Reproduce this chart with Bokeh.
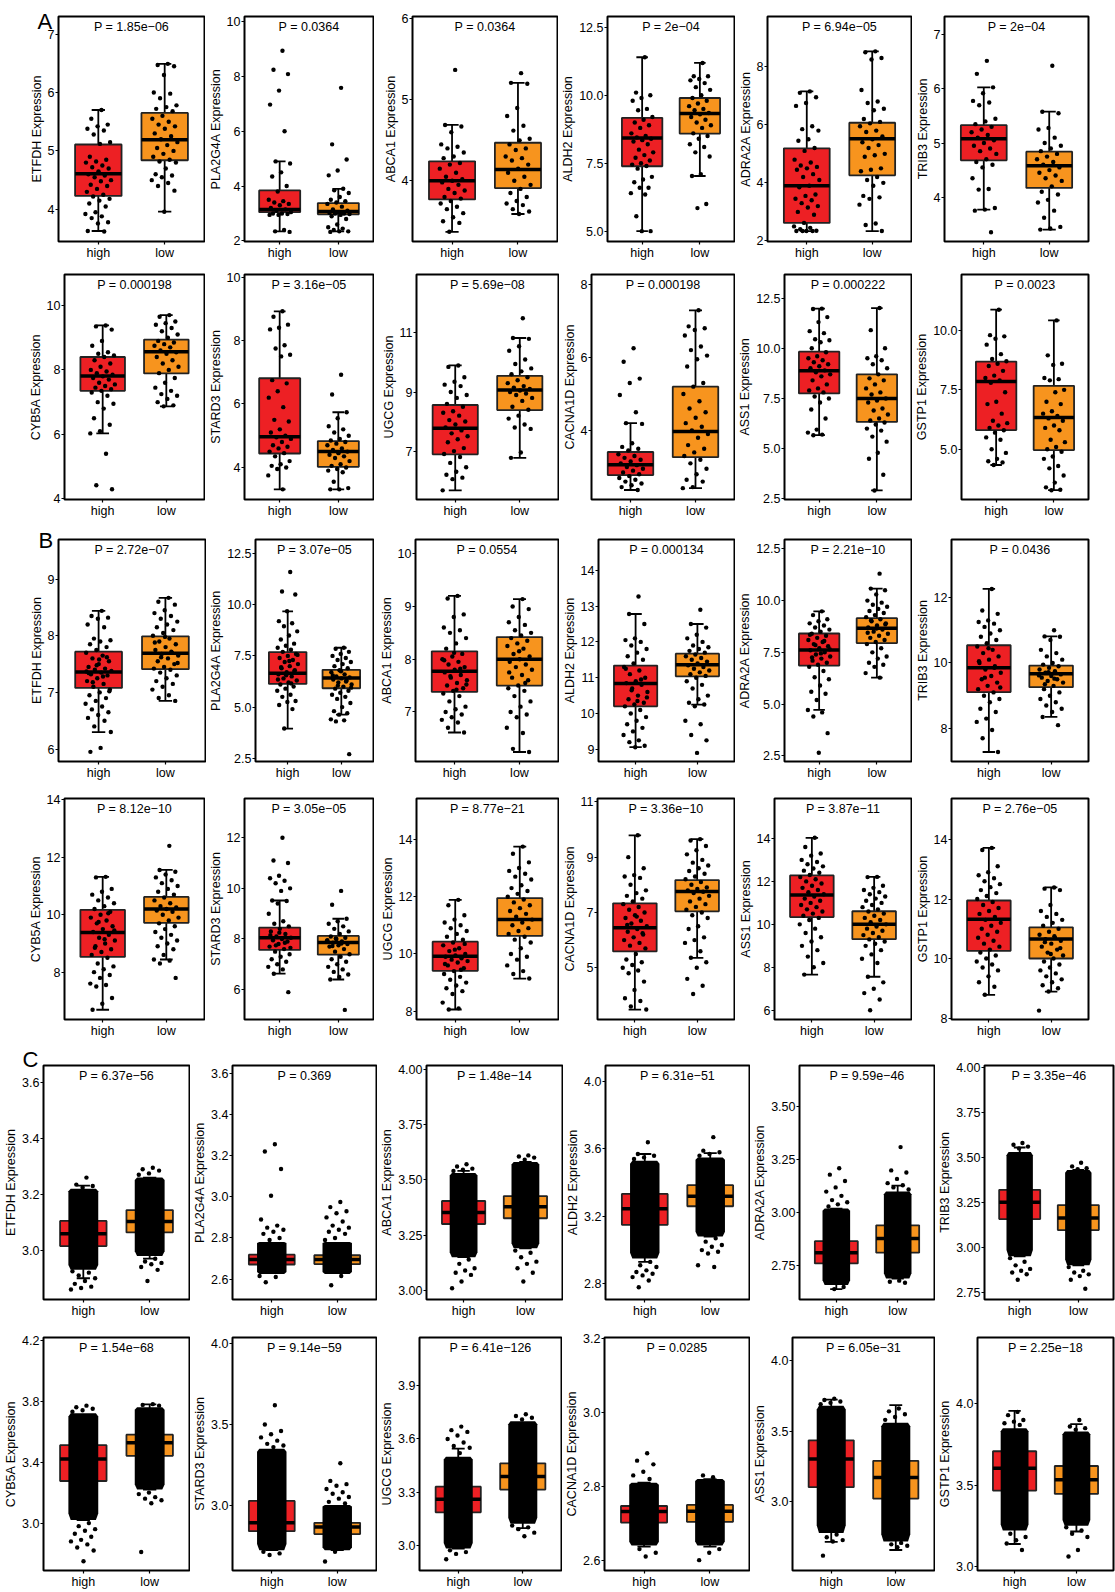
from bokeh.plotting import figure
from bokeh.layouts import column, row
from bokeh.models import Range1d, FixedTicker, PrintfTickFormatter, Label
from bokeh.embed import file_html
from bokeh.resources import INLINE

FONT = "Liberation Sans"
GROUPS = ["high", "low"]
BOX_COLORS = ["#ED2024", "#F7941E"]
GENES = ["ETFDH", "PLA2G4A", "ABCA1", "ALDH2", "ADRA2A", "TRIB3",
         "CYB5A", "STARD3", "UGCG", "CACNA1D", "ASS1", "GSTP1"]

# ---------------- cohort A ----------------
A_pval = ["1.85e\u221206", "0.0364", "0.0364", "2e\u221204", "6.94e\u221205", "2e\u221204",
          "0.000198", "3.16e\u221205", "5.69e\u221208", "0.000198", "0.000222", "0.0023"]
A_ylim = [[3.45, 7.30], [1.98, 10.18], [3.25, 6.03], [4.62, 12.90], [1.98, 9.73], [3.18, 7.34],
          [3.98, 10.96], [2.99, 10.08], [5.36, 12.98], [2.11, 8.27], [2.47, 13.67], [2.89, 12.35]]
A_ticks = [["4", "5", "6", "7"], ["2", "4", "6", "8", "10"], ["4", "5", "6"],
           ["5.0", "7.5", "10.0", "12.5"], ["2", "4", "6", "8"], ["4", "5", "6", "7"],
           ["4", "6", "8", "10"], ["4", "6", "8", "10"], ["7", "9", "11"], ["4", "6", "8"],
           ["2.5", "5.0", "7.5", "10.0", "12.5"], ["5.0", "7.5", "10.0"]]
# [lower whisker, Q1, median, Q3, upper whisker]
A_high_box = [[3.63, 4.23, 4.61, 5.11, 5.70], [2.35, 3.05, 3.15, 3.84, 4.90], [3.37, 3.77, 4.00, 4.24, 4.69],
              [5.00, 7.39, 8.43, 9.17, 11.40], [2.34, 2.62, 3.90, 5.19, 7.15], [3.77, 4.68, 5.08, 5.33, 6.03],
              [6.03, 7.35, 7.81, 8.40, 9.38], [3.31, 4.44, 4.97, 6.81, 8.92], [5.67, 6.89, 7.77, 8.56, 9.90],
              [2.37, 2.78, 3.06, 3.41, 4.20], [5.67, 7.75, 8.88, 9.83, 11.97], [4.34, 5.81, 7.85, 8.69, 10.87]]
A_low_box = [[3.96, 4.84, 5.19, 5.65, 6.49], [2.35, 2.97, 3.07, 3.38, 3.90], [3.59, 3.91, 4.14, 4.47, 5.21],
             [7.03, 8.59, 9.33, 9.90, 11.19], [2.34, 4.26, 5.52, 6.07, 8.53], [3.40, 4.17, 4.58, 4.84, 5.58],
             [6.87, 7.89, 8.56, 8.94, 9.70], [3.31, 4.02, 4.50, 4.83, 5.74], [6.77, 8.39, 9.07, 9.55, 10.83],
             [2.42, 3.27, 3.97, 5.20, 7.29], [2.92, 6.33, 7.50, 8.70, 12.00], [3.28, 4.97, 6.34, 7.67, 10.42]]
A_high_pts = [
    [5.70, 5.55, 5.45, 5.42, 5.38, 5.35, 5.28, 5.15, 5.12, 4.90, 4.85, 4.82, 4.80, 4.75, 4.72, 4.70, 4.65, 4.60, 4.58, 4.55, 4.50, 4.48, 4.42, 4.40, 4.35, 4.30, 4.25, 4.22, 4.18, 4.15, 4.10, 4.05, 3.95, 3.92, 3.88, 3.85, 3.78, 3.76, 3.63, 3.62],
    [8.93, 8.24, 8.08, 7.48, 6.97, 6.00, 4.90, 4.82, 4.50, 4.35, 4.00, 3.80, 3.50, 3.45, 3.40, 3.35, 3.30, 3.20, 3.15, 3.10, 3.05, 3.00, 3.00, 2.98, 2.95, 2.95, 2.40, 2.35, 2.33],
    [5.37, 4.69, 4.67, 4.60, 4.45, 4.42, 4.40, 4.35, 4.30, 4.28, 4.22, 4.20, 4.15, 4.10, 4.05, 4.02, 4.00, 3.98, 3.95, 3.90, 3.88, 3.85, 3.80, 3.78, 3.75, 3.72, 3.68, 3.65, 3.60, 3.55, 3.50, 3.48, 3.37],
    [11.40, 10.10, 10.00, 9.90, 9.80, 9.50, 9.45, 9.20, 9.10, 9.00, 8.90, 8.80, 8.60, 8.50, 8.45, 8.40, 8.35, 8.30, 8.20, 8.00, 7.90, 7.80, 7.70, 7.60, 7.50, 7.45, 7.40, 7.30, 7.00, 6.90, 6.80, 6.60, 6.60, 6.40, 6.35, 5.55, 5.00, 5.00],
    [7.15, 7.10, 6.95, 6.75, 6.65, 5.95, 5.85, 5.80, 5.50, 5.45, 5.20, 5.10, 4.80, 4.70, 4.60, 4.55, 4.50, 4.45, 4.30, 4.20, 4.10, 3.90, 3.85, 3.60, 3.55, 3.45, 3.40, 3.30, 3.20, 3.15, 3.00, 2.90, 2.62, 2.50, 2.45, 2.40, 2.35, 2.34, 2.34, 2.34, 2.34],
    [6.52, 6.28, 6.03, 5.92, 5.78, 5.75, 5.70, 5.45, 5.40, 5.35, 5.30, 5.25, 5.20, 5.15, 5.10, 5.05, 5.00, 4.95, 4.90, 4.85, 4.80, 4.70, 4.65, 4.60, 4.55, 4.35, 4.15, 4.14, 3.80, 3.77, 3.75, 3.35],
    [9.38, 9.35, 9.25, 8.90, 8.75, 8.55, 8.50, 8.45, 8.40, 8.30, 8.20, 8.10, 8.00, 7.95, 7.90, 7.85, 7.80, 7.75, 7.70, 7.60, 7.55, 7.50, 7.45, 7.40, 7.35, 7.30, 7.20, 7.00, 6.95, 6.80, 6.50, 6.30, 6.10, 6.03, 5.40, 4.42, 4.30],
    [8.92, 8.75, 8.50, 8.40, 8.35, 7.85, 7.75, 7.55, 7.50, 6.75, 6.65, 6.40, 6.20, 5.90, 5.50, 5.45, 5.20, 5.10, 5.00, 4.95, 4.90, 4.80, 4.70, 4.65, 4.60, 4.50, 4.45, 4.35, 4.20, 4.10, 4.05, 4.00, 3.95, 3.75, 3.31],
    [9.90, 9.85, 9.50, 9.35, 9.25, 9.20, 9.00, 8.90, 8.80, 8.60, 8.50, 8.35, 8.30, 8.20, 8.05, 8.00, 7.90, 7.80, 7.70, 7.60, 7.50, 7.40, 7.30, 7.10, 7.00, 6.90, 6.80, 6.60, 6.45, 6.30, 6.20, 6.10, 6.05, 5.67],
    [6.25, 5.88, 5.42, 5.30, 4.97, 4.50, 4.20, 4.18, 3.65, 3.55, 3.50, 3.45, 3.35, 3.30, 3.25, 3.20, 3.15, 3.10, 3.05, 3.00, 2.95, 2.90, 2.85, 2.80, 2.75, 2.70, 2.65, 2.60, 2.55, 2.50, 2.45, 2.37],
    [11.97, 11.95, 11.55, 11.30, 10.85, 10.75, 10.45, 10.40, 10.30, 10.00, 9.80, 9.60, 9.50, 9.40, 9.30, 9.20, 9.10, 9.00, 8.90, 8.80, 8.70, 8.60, 8.40, 8.20, 8.00, 7.90, 7.80, 7.60, 7.50, 7.30, 6.95, 6.50, 5.95, 5.80, 5.70, 5.67],
    [10.87, 9.80, 9.75, 9.65, 9.40, 9.00, 8.80, 8.70, 8.60, 8.50, 8.30, 8.10, 8.00, 7.90, 7.80, 7.40, 7.00, 6.90, 6.50, 6.20, 6.10, 6.00, 5.90, 5.80, 5.70, 5.50, 5.40, 5.00, 4.85, 4.60, 4.50, 4.45, 4.34]]
A_low_pts = [
    [6.49, 6.47, 6.45, 6.30, 6.00, 5.98, 5.90, 5.78, 5.75, 5.72, 5.68, 5.60, 5.55, 5.50, 5.45, 5.42, 5.38, 5.30, 5.25, 5.20, 5.15, 5.10, 5.05, 5.00, 4.95, 4.90, 4.85, 4.82, 4.80, 4.70, 4.60, 4.58, 4.55, 4.50, 4.45, 4.40, 4.32, 3.96],
    [7.58, 5.52, 4.97, 4.57, 4.39, 3.90, 3.85, 3.75, 3.60, 3.50, 3.45, 3.40, 3.35, 3.25, 3.15, 3.10, 3.05, 3.02, 3.00, 3.00, 2.98, 2.95, 2.90, 2.80, 2.60, 2.50, 2.45, 2.40, 2.35, 2.35, 2.33],
    [5.33, 5.21, 5.20, 4.90, 4.80, 4.68, 4.62, 4.52, 4.50, 4.45, 4.40, 4.38, 4.30, 4.28, 4.25, 4.20, 4.15, 4.10, 4.05, 4.00, 3.95, 3.90, 3.85, 3.80, 3.75, 3.72, 3.70, 3.65, 3.62, 3.59],
    [11.19, 10.70, 10.70, 10.60, 10.55, 10.45, 10.30, 10.20, 10.00, 9.90, 9.80, 9.70, 9.60, 9.50, 9.45, 9.35, 9.30, 9.20, 9.10, 9.00, 8.90, 8.80, 8.60, 8.50, 8.40, 8.20, 8.10, 7.90, 7.75, 7.10, 7.03, 6.00, 5.85],
    [8.53, 8.50, 8.30, 8.25, 7.20, 6.80, 6.75, 6.55, 6.50, 6.20, 6.10, 6.05, 5.95, 5.80, 5.75, 5.60, 5.50, 5.40, 5.30, 5.20, 5.00, 4.95, 4.90, 4.50, 4.45, 4.40, 4.20, 4.10, 4.00, 3.90, 3.55, 3.50, 3.45, 3.25, 2.60, 2.55, 2.34],
    [6.43, 5.58, 5.55, 5.28, 5.25, 5.10, 5.00, 4.95, 4.90, 4.85, 4.80, 4.75, 4.70, 4.65, 4.60, 4.55, 4.50, 4.45, 4.40, 4.35, 4.30, 4.20, 4.10, 4.05, 3.95, 3.90, 3.75, 3.62, 3.45, 3.42, 3.40],
    [9.70, 9.65, 9.50, 9.45, 9.40, 9.30, 9.20, 9.10, 9.00, 8.90, 8.85, 8.80, 8.75, 8.70, 8.60, 8.55, 8.50, 8.40, 8.30, 8.20, 8.10, 8.00, 7.90, 7.75, 7.60, 7.45, 7.35, 7.25, 7.20, 7.10, 7.00, 6.90, 6.87],
    [6.92, 6.30, 5.74, 5.55, 5.30, 5.20, 5.10, 5.00, 4.90, 4.85, 4.80, 4.75, 4.70, 4.60, 4.55, 4.50, 4.45, 4.40, 4.35, 4.30, 4.20, 4.10, 4.05, 4.00, 3.95, 3.90, 3.85, 3.55, 3.35, 3.31, 3.31],
    [11.50, 10.83, 10.80, 10.55, 10.40, 10.10, 9.95, 9.80, 9.70, 9.60, 9.50, 9.40, 9.30, 9.20, 9.15, 9.10, 9.05, 9.00, 8.95, 8.90, 8.80, 8.70, 8.50, 8.40, 8.20, 8.10, 7.90, 7.80, 7.75, 6.95, 6.77],
    [7.29, 6.85, 6.80, 6.75, 6.60, 6.30, 6.20, 6.05, 5.95, 5.75, 5.30, 5.20, 5.00, 4.80, 4.60, 4.50, 4.35, 4.20, 4.10, 4.00, 3.90, 3.80, 3.60, 3.50, 3.40, 3.30, 3.20, 3.10, 2.95, 2.80, 2.65, 2.60, 2.45, 2.42],
    [12.00, 10.90, 10.00, 9.60, 9.50, 9.40, 9.20, 9.00, 8.70, 8.50, 8.40, 8.20, 8.00, 7.80, 7.70, 7.50, 7.40, 7.30, 7.00, 6.90, 6.70, 6.50, 6.40, 6.30, 6.20, 6.00, 5.90, 5.60, 5.35, 4.80, 4.50, 3.70, 2.92],
    [10.42, 8.95, 8.60, 8.55, 8.00, 7.95, 7.90, 7.50, 7.40, 7.00, 6.90, 6.60, 6.50, 6.40, 6.30, 6.20, 6.00, 5.90, 5.80, 5.40, 5.30, 5.10, 5.00, 4.90, 4.70, 4.60, 4.30, 4.20, 3.90, 3.60, 3.40, 3.30, 3.28]]

# ---------------- cohort B ----------------
B_pval = ["2.72e\u221207", "3.07e\u221205", "0.0554", "0.000134", "2.21e\u221210", "0.0436",
          "8.12e\u221210", "3.05e\u221205", "8.77e\u221221", "3.36e\u221210", "3.87e\u221211", "2.76e\u221205"]
B_ylim = [[5.78, 9.70], [2.34, 13.19], [6.06, 10.27], [8.66, 14.86], [2.23, 12.95], [6.99, 13.77],
          [6.35, 14.05], [4.82, 13.55], [7.71, 15.43], [3.13, 11.12], [5.57, 15.86], [7.95, 15.38]]
B_ticks = [["6", "7", "8", "9"], ["2.5", "5.0", "7.5", "10.0", "12.5"], ["7", "8", "9", "10"],
           ["9", "10", "11", "12", "13", "14"], ["2.5", "5.0", "7.5", "10.0", "12.5"], ["8", "10", "12"],
           ["8", "10", "12", "14"], ["6", "8", "10", "12"], ["8", "10", "12", "14"], ["5", "7", "9", "11"],
           ["6", "8", "10", "12", "14"], ["8", "10", "12", "14"]]
B_high_box = [[6.30, 7.08, 7.36, 7.72, 8.44], [3.95, 6.13, 6.65, 7.69, 9.68], [6.61, 7.38, 7.77, 8.15, 9.20],
              [9.06, 10.20, 10.84, 11.34, 12.78], [4.72, 6.86, 7.61, 8.41, 9.48], [7.28, 9.11, 9.85, 10.54, 12.26],
              [6.69, 8.53, 9.38, 10.17, 11.32], [6.63, 7.57, 8.05, 8.45, 9.52], [8.06, 9.41, 9.92, 10.43, 11.89],
              [3.49, 5.59, 6.45, 7.33, 9.79], [7.66, 10.34, 11.37, 12.28, 14.03], [8.78, 10.26, 11.32, 11.95, 13.72]]
B_low_box = [[6.85, 7.41, 7.69, 7.99, 8.67], [4.63, 5.92, 6.42, 6.82, 7.90], [6.24, 7.50, 8.00, 8.42, 9.14],
             [10.25, 11.04, 11.36, 11.67, 12.50], [6.28, 7.95, 8.67, 9.15, 10.58], [8.35, 9.26, 9.67, 9.92, 10.81],
             [8.44, 9.72, 10.20, 10.62, 11.56], [6.40, 7.38, 7.86, 8.12, 8.80], [9.14, 10.63, 11.20, 11.95, 13.75],
             [5.36, 7.04, 7.76, 8.17, 9.65], [7.56, 9.31, 10.00, 10.61, 12.21], [8.89, 10.00, 10.66, 11.05, 12.39]]
B_high_pts = [
    [8.44, 8.35, 8.32, 8.30, 8.20, 8.15, 7.95, 7.92, 7.90, 7.85, 7.80, 7.75, 7.70, 7.65, 7.60, 7.55, 7.50, 7.45, 7.42, 7.40, 7.38, 7.35, 7.32, 7.30, 7.25, 7.20, 7.15, 7.10, 7.05, 7.00, 6.95, 6.90, 6.85, 6.80, 6.75, 6.70, 6.65, 6.60, 6.55, 6.50, 6.40, 6.30, 6.02, 5.95, 7.62, 7.48, 7.37, 7.28, 7.18, 7.02, 7.58, 7.34],
    [11.60, 10.65, 10.50, 9.68, 9.20, 9.10, 8.95, 8.70, 8.50, 8.30, 8.10, 8.00, 7.90, 7.80, 7.70, 7.60, 7.50, 7.40, 7.30, 7.20, 7.10, 7.00, 6.90, 6.80, 6.70, 6.60, 6.50, 6.40, 6.30, 6.20, 6.10, 6.00, 5.90, 5.80, 5.60, 5.50, 5.30, 5.25, 5.10, 4.90, 3.95, 7.55, 7.25, 6.95, 6.75, 6.55, 6.35, 6.15],
    [9.20, 9.15, 8.85, 8.80, 8.60, 8.55, 8.50, 8.40, 8.30, 8.20, 8.10, 8.05, 8.00, 7.95, 7.90, 7.85, 7.80, 7.75, 7.70, 7.65, 7.60, 7.55, 7.50, 7.45, 7.40, 7.35, 7.30, 7.20, 7.10, 7.05, 7.00, 6.95, 6.90, 6.85, 6.80, 6.70, 6.61, 8.12, 7.98, 7.82, 7.68, 7.52, 7.42],
    [13.27, 12.78, 12.50, 12.10, 12.05, 12.00, 11.90, 11.80, 11.70, 11.60, 11.50, 11.40, 11.30, 11.20, 11.10, 11.00, 10.90, 10.85, 10.80, 10.70, 10.60, 10.50, 10.40, 10.30, 10.25, 10.20, 10.10, 10.00, 9.90, 9.80, 9.70, 9.60, 9.50, 9.40, 9.25, 9.20, 9.10, 9.06, 11.25, 10.95, 10.65, 10.45, 10.35],
    [9.48, 9.30, 9.10, 9.00, 8.90, 8.80, 8.70, 8.60, 8.50, 8.40, 8.30, 8.20, 8.10, 8.00, 7.90, 7.80, 7.70, 7.60, 7.50, 7.40, 7.30, 7.20, 7.10, 7.00, 6.90, 6.80, 6.60, 6.30, 6.20, 5.90, 5.60, 5.50, 5.20, 4.72, 4.60, 4.40, 3.60, 2.65, 8.35, 8.05, 7.85, 7.65, 7.45, 7.25],
    [12.26, 11.60, 11.50, 11.30, 11.25, 11.20, 11.10, 11.00, 10.90, 10.80, 10.70, 10.60, 10.50, 10.40, 10.30, 10.20, 10.10, 10.00, 9.90, 9.80, 9.70, 9.60, 9.50, 9.40, 9.30, 9.20, 9.10, 9.00, 8.90, 8.80, 8.60, 8.50, 8.30, 8.20, 7.95, 7.70, 7.28, 10.45, 10.05, 9.85, 9.55, 9.25],
    [11.32, 11.30, 10.90, 10.80, 10.70, 10.60, 10.50, 10.40, 10.30, 10.20, 10.10, 10.00, 9.90, 9.80, 9.70, 9.60, 9.50, 9.40, 9.30, 9.20, 9.10, 9.00, 8.90, 8.80, 8.70, 8.60, 8.50, 8.30, 8.20, 8.10, 8.00, 7.90, 7.80, 7.60, 7.55, 7.50, 7.10, 6.90, 6.69, 10.05, 9.75, 9.45, 9.15, 8.85],
    [12.00, 11.10, 11.00, 10.50, 10.40, 10.30, 10.20, 10.00, 9.90, 9.52, 9.50, 9.40, 9.00, 8.70, 8.60, 8.50, 8.40, 8.30, 8.20, 8.10, 8.05, 8.00, 7.95, 7.90, 7.80, 7.70, 7.60, 7.50, 7.40, 7.30, 7.20, 7.10, 7.00, 6.90, 6.80, 6.63, 5.90, 8.25, 8.15, 7.85, 7.75, 7.65],
    [11.89, 11.70, 11.35, 11.20, 11.10, 11.00, 10.90, 10.80, 10.70, 10.60, 10.50, 10.40, 10.30, 10.20, 10.10, 10.00, 9.95, 9.90, 9.85, 9.80, 9.75, 9.70, 9.60, 9.50, 9.40, 9.30, 9.20, 9.10, 9.00, 8.90, 8.80, 8.70, 8.60, 8.30, 8.10, 8.06, 10.35, 10.15, 9.65, 9.45],
    [9.79, 9.00, 8.60, 8.35, 8.30, 8.25, 8.00, 7.80, 7.70, 7.60, 7.50, 7.40, 7.30, 7.20, 7.10, 7.00, 6.90, 6.80, 6.70, 6.60, 6.50, 6.40, 6.30, 6.20, 6.10, 6.00, 5.90, 5.80, 5.70, 5.50, 5.30, 5.20, 5.10, 5.00, 4.90, 4.80, 4.50, 4.20, 3.90, 3.80, 3.60, 3.49, 6.85, 6.55, 6.25],
    [14.03, 13.60, 13.30, 13.20, 13.00, 12.90, 12.80, 12.70, 12.60, 12.50, 12.40, 12.30, 12.20, 12.10, 12.00, 11.90, 11.80, 11.70, 11.60, 11.50, 11.40, 11.30, 11.20, 11.10, 11.00, 10.90, 10.80, 10.70, 10.60, 10.50, 10.40, 10.30, 10.20, 10.00, 9.80, 9.60, 9.40, 9.20, 9.00, 8.80, 8.50, 8.20, 8.00, 7.66],
    [13.72, 13.65, 13.10, 12.90, 12.80, 12.70, 12.60, 12.50, 12.40, 12.30, 12.20, 12.10, 12.00, 11.90, 11.80, 11.70, 11.60, 11.50, 11.40, 11.30, 11.20, 11.10, 11.00, 10.90, 10.80, 10.70, 10.60, 10.50, 10.40, 10.30, 10.20, 10.10, 10.00, 9.90, 9.80, 9.70, 9.60, 9.40, 9.20, 9.05, 8.78]]
B_low_pts = [
    [8.67, 8.60, 8.55, 8.45, 8.40, 8.35, 8.30, 8.25, 8.20, 8.15, 8.10, 8.05, 8.00, 7.95, 7.90, 7.85, 7.80, 7.75, 7.70, 7.68, 7.65, 7.60, 7.55, 7.50, 7.45, 7.42, 7.40, 7.35, 7.30, 7.25, 7.20, 7.15, 7.10, 7.05, 6.95, 6.90, 6.85, 7.98, 7.88, 7.72, 7.62, 7.52],
    [7.90, 7.85, 7.70, 7.60, 7.50, 7.40, 7.30, 7.20, 7.10, 7.00, 6.90, 6.80, 6.70, 6.60, 6.50, 6.45, 6.40, 6.35, 6.30, 6.20, 6.10, 6.00, 5.90, 5.80, 5.70, 5.60, 5.50, 5.40, 5.20, 5.00, 4.80, 4.70, 4.63, 4.40, 4.35, 4.30, 2.70, 6.75, 6.55, 6.25, 6.05, 5.95],
    [9.14, 9.00, 8.95, 8.80, 8.70, 8.65, 8.55, 8.50, 8.45, 8.40, 8.35, 8.30, 8.25, 8.20, 8.10, 8.05, 8.00, 7.95, 7.90, 7.85, 7.80, 7.70, 7.65, 7.60, 7.50, 7.45, 7.40, 7.30, 7.20, 7.10, 7.00, 6.95, 6.90, 6.70, 6.60, 6.30, 6.24, 8.15, 7.75, 7.55],
    [12.90, 12.50, 12.40, 12.20, 12.10, 12.00, 11.90, 11.85, 11.80, 11.75, 11.70, 11.65, 11.60, 11.55, 11.50, 11.45, 11.40, 11.35, 11.30, 11.25, 11.20, 11.15, 11.10, 11.05, 11.00, 10.90, 10.80, 10.70, 10.50, 10.40, 10.30, 10.25, 10.20, 9.80, 9.70, 9.40, 9.25, 8.90],
    [11.30, 10.58, 10.50, 10.30, 10.00, 9.90, 9.80, 9.70, 9.60, 9.50, 9.40, 9.30, 9.20, 9.10, 9.00, 8.90, 8.80, 8.70, 8.60, 8.50, 8.40, 8.30, 8.20, 8.10, 8.00, 7.90, 7.70, 7.50, 7.30, 7.20, 7.00, 6.90, 6.80, 6.50, 6.28, 9.05, 8.85, 8.65, 8.45],
    [11.00, 10.81, 10.80, 10.70, 10.40, 10.30, 10.20, 10.10, 10.00, 9.95, 9.90, 9.85, 9.80, 9.75, 9.70, 9.65, 9.60, 9.55, 9.50, 9.45, 9.40, 9.30, 9.20, 9.10, 9.00, 8.90, 8.80, 8.70, 8.60, 8.50, 8.35, 8.10, 9.72, 9.62, 9.52, 9.35],
    [12.40, 11.56, 11.50, 11.40, 11.30, 11.20, 11.10, 11.00, 10.90, 10.80, 10.70, 10.60, 10.50, 10.40, 10.30, 10.25, 10.20, 10.15, 10.10, 10.00, 9.90, 9.80, 9.70, 9.60, 9.50, 9.40, 9.30, 9.20, 9.10, 9.00, 8.90, 8.80, 8.60, 8.44, 8.40, 8.30, 7.80],
    [9.90, 9.35, 8.80, 8.70, 8.60, 8.50, 8.40, 8.30, 8.20, 8.10, 8.05, 8.00, 7.95, 7.90, 7.85, 7.80, 7.75, 7.70, 7.60, 7.50, 7.40, 7.30, 7.20, 7.10, 7.00, 6.90, 6.80, 6.70, 6.60, 6.50, 6.40, 5.20, 8.02, 7.92, 7.82, 7.72],
    [13.75, 13.50, 13.20, 13.00, 12.90, 12.80, 12.70, 12.60, 12.40, 12.30, 12.20, 12.10, 12.00, 11.90, 11.80, 11.70, 11.60, 11.50, 11.40, 11.30, 11.20, 11.10, 11.00, 10.90, 10.80, 10.70, 10.60, 10.50, 10.40, 10.20, 10.00, 9.90, 9.80, 9.60, 9.40, 9.30, 9.14],
    [9.65, 9.60, 9.40, 9.25, 9.10, 8.90, 8.80, 8.70, 8.60, 8.50, 8.40, 8.30, 8.20, 8.10, 8.00, 7.90, 7.85, 7.80, 7.75, 7.70, 7.60, 7.50, 7.40, 7.30, 7.20, 7.10, 7.00, 6.90, 6.80, 6.50, 6.40, 6.10, 6.00, 5.90, 5.60, 5.36, 5.20, 5.00, 4.60, 4.35, 4.05],
    [12.21, 12.20, 11.80, 11.70, 11.60, 11.50, 11.40, 11.30, 11.20, 11.10, 11.00, 10.90, 10.80, 10.70, 10.60, 10.50, 10.40, 10.30, 10.20, 10.10, 10.00, 9.90, 9.80, 9.70, 9.60, 9.50, 9.40, 9.30, 9.20, 9.10, 9.00, 8.80, 8.60, 8.40, 8.20, 7.56, 7.30, 7.00, 6.80, 6.50, 6.00],
    [12.39, 12.35, 12.30, 11.80, 11.60, 11.50, 11.40, 11.30, 11.20, 11.10, 11.00, 10.90, 10.80, 10.70, 10.65, 10.60, 10.50, 10.40, 10.30, 10.20, 10.10, 10.00, 9.90, 9.80, 9.70, 9.60, 9.50, 9.40, 9.30, 9.20, 9.10, 9.00, 8.89, 8.25, 10.75, 10.55, 10.35, 10.15]]

# ---------------- cohort C (dense: solid core of points + sparse tails) ----------------
C_pval = ["6.37e\u221256", "0.369", "1.48e\u221214", "6.31e\u221251", "9.59e\u221246", "3.35e\u221246",
          "1.54e\u221268", "9.14e\u221259", "6.41e\u2212126", "0.0285", "6.05e\u221231", "2.25e\u221218"]
C_ylim = [[2.824, 3.661], [2.501, 3.638], [2.959, 4.016], [2.707, 4.095], [2.591, 3.695], [2.71, 4.011],
          [2.689, 4.217], [2.594, 4.04], [2.856, 4.174], [2.572, 3.204], [2.515, 4.162], [2.974, 4.408]]
C_ticks = [["3.0", "3.2", "3.4", "3.6"], ["2.6", "2.8", "3.0", "3.2", "3.4", "3.6"],
           ["3.00", "3.25", "3.50", "3.75", "4.00"], ["2.8", "3.2", "3.6", "4.0"],
           ["2.75", "3.00", "3.25", "3.50"], ["2.75", "3.00", "3.25", "3.50", "3.75", "4.00"],
           ["3.0", "3.4", "3.8", "4.2"], ["3.0", "3.5", "4.0"], ["3.0", "3.3", "3.6", "3.9"],
           ["2.6", "2.8", "3.0", "3.2"], ["3.0", "3.5", "4.0"], ["3.0", "3.5", "4.0"]]
C_high_box = [[2.90, 3.015, 3.059, 3.105, 3.231], [2.64, 2.671, 2.695, 2.719, 2.76], [3.15, 3.30, 3.352, 3.404, 3.54],
              [2.93, 3.15, 3.245, 3.333, 3.57], [2.64, 2.761, 2.812, 2.866, 3.02], [2.95, 3.157, 3.25, 3.32, 3.555],
              [3.02, 3.276, 3.421, 3.511, 3.694], [2.72, 2.838, 2.89, 3.026, 3.30], [2.98, 3.185, 3.259, 3.33, 3.545],
              [2.637, 2.702, 2.732, 2.747, 2.81], [2.718, 3.104, 3.304, 3.435, 3.723], [3.137, 3.466, 3.603, 3.708, 3.956]]
C_low_box = [[2.97, 3.064, 3.103, 3.144, 3.26], [2.64, 2.673, 2.695, 2.716, 2.76], [3.19, 3.326, 3.378, 3.426, 3.58],
             [3.08, 3.26, 3.32, 3.385, 3.575], [2.69, 2.812, 2.879, 2.941, 3.128], [2.90, 3.096, 3.163, 3.235, 3.43],
             [3.22, 3.441, 3.526, 3.58, 3.779], [2.72, 2.82, 2.864, 2.89, 2.99], [3.096, 3.314, 3.388, 3.462, 3.684],
             [2.637, 2.704, 2.733, 2.75, 2.82], [2.66, 3.023, 3.173, 3.29, 3.684], [3.214, 3.445, 3.532, 3.617, 3.875]]
C_high_core = [[2.93, 3.22], [2.625, 2.78], [3.15, 3.53], [2.95, 3.53], [2.66, 3.02], [2.95, 3.53],
               [3.02, 3.72], [2.72, 3.35], [2.98, 3.50], [2.64, 2.81], [2.78, 3.68], [3.22, 3.85]]
C_low_core = [[2.98, 3.26], [2.625, 2.78], [3.19, 3.58], [3.08, 3.55], [2.69, 3.10], [2.90, 3.43],
              [3.22, 3.76], [2.72, 3.00], [3.12, 3.70], [2.64, 2.82], [2.72, 3.56], [3.25, 3.83]]
C_high_pts = [
    [3.26, 3.235, 3.23, 3.225, 2.925, 2.92, 2.91, 2.90, 2.89, 2.88, 2.87, 2.865, 2.86],
    [3.255, 3.22, 3.135, 3.005, 2.89, 2.86, 2.85, 2.84, 2.83, 2.82, 2.80, 2.79, 2.615, 2.61, 2.585],
    [3.57, 3.56, 3.55, 3.545, 3.54, 3.14, 3.12, 3.10, 3.09, 3.08, 3.07, 3.04, 3.01],
    [3.64, 3.57, 3.56, 3.55, 3.54, 2.93, 2.91, 2.90, 2.88, 2.87, 2.86, 2.85, 2.84, 2.82, 2.78],
    [3.21, 3.18, 3.15, 3.12, 3.10, 3.08, 3.06, 3.05, 3.04, 3.03, 2.65, 2.64],
    [3.58, 3.57, 3.56, 3.55, 2.94, 2.92, 2.90, 2.88, 2.87, 2.86, 2.85, 2.82],
    [3.77, 3.76, 3.75, 3.74, 3.73, 3.00, 2.98, 2.96, 2.95, 2.93, 2.91, 2.89, 2.88, 2.86, 2.84, 2.82, 2.75],
    [3.62, 3.50, 3.46, 3.44, 3.42, 3.40, 3.38, 3.37, 3.36, 2.71, 2.70, 2.69],
    [3.67, 3.65, 3.64, 3.62, 3.60, 3.58, 3.56, 3.55, 3.52, 2.97, 2.96, 2.95, 2.92],
    [2.89, 2.87, 2.86, 2.84, 2.83, 2.82, 2.63, 2.62, 2.61],
    [3.73, 3.72, 3.71, 3.70, 3.69, 2.77, 2.75, 2.73, 2.72, 2.62],
    [3.95, 3.93, 3.90, 3.89, 3.88, 3.87, 3.20, 3.18, 3.16, 3.14, 3.10]]
C_low_pts = [
    [3.295, 3.29, 3.285, 3.275, 3.27, 2.97, 2.96, 2.955, 2.95, 2.94, 2.93, 2.89],
    [2.975, 2.95, 2.93, 2.92, 2.90, 2.88, 2.86, 2.85, 2.84, 2.83, 2.82, 2.80, 2.79, 2.615, 2.57],
    [3.61, 3.605, 3.60, 3.59, 3.18, 3.17, 3.15, 3.13, 3.12, 3.10, 3.08, 3.04],
    [3.67, 3.59, 3.58, 3.57, 3.56, 3.07, 3.05, 3.03, 3.02, 3.00, 2.99, 2.98, 2.91, 2.90],
    [3.31, 3.20, 3.19, 3.16, 3.14, 3.13, 3.12, 3.11, 2.68, 2.675, 2.67],
    [3.47, 3.45, 3.44, 3.435, 2.89, 2.87, 2.86, 2.85, 2.84, 2.82, 2.77],
    [3.78, 3.775, 3.77, 3.20, 3.19, 3.17, 3.16, 3.15, 3.13, 2.81],
    [3.26, 3.15, 3.13, 3.12, 3.10, 3.08, 3.07, 3.05, 3.04, 3.02, 3.01, 2.71, 2.65],
    [3.74, 3.73, 3.72, 3.71, 3.11, 3.10, 3.09, 3.07, 3.05],
    [2.825, 2.83, 2.63, 2.62, 2.60],
    [3.66, 3.64, 3.62, 3.60, 3.58, 2.71, 2.70, 2.69, 2.68],
    [3.90, 3.86, 3.85, 3.84, 3.24, 3.22, 3.20, 3.18, 3.10, 3.06]]

# ---------------- layout (reference pixel geometry; page has no body margin) ----------------
PAGE_W, PAGE_H = 1115, 1591
ROW_BOUNDS = [0, 262, 522, 782, 1040, 1320, 1591]
FRAME_TB = [(15.7, 241), (273.7, 499), (539, 763), (797.7, 1022.7), (1063.7, 1301.7), (1336.7, 1574)]
FRAME_LEFT = [[58, 236, 412, 600, 764, 941],
              [64, 239, 416, 588, 777, 954],
              [58, 241, 415, 593, 777, 947],
              [64, 239, 416, 593, 769, 947],
              [43, 229, 421, 603, 794, 979],
              [43, 229, 415, 603, 788, 974]]
FRAME_RIGHT = [[204, 373, 557, 734, 911, 1088],
               [204, 373, 558, 734, 911, 1088],
               [205, 373, 558, 734, 911, 1088],
               [204, 373, 558, 734, 911, 1088],
               [189, 376, 562, 749, 934, 1113],
               [189, 376, 561, 749, 934, 1113]]
# letter, px from frame left, baseline px below frame top, side panel that hosts it
LETTERS = {0: ("A", -21, 5, "left"), 2: ("B", -20, 1, "left"), 4: ("C", -21, -6, "above")}

XLO, XHI = 0.4, 2.6


def jitter(i):
    return (((i + 1) * 0.6180339887) % 1.0 - 0.5) * 0.4


def make_panel(gene, ptxt, ylim, tlabels, boxes, pts, cores, geom, letter):
    w, h, ml, mr, mt, mb, fw, fh = geom
    lo, hi = ylim
    p = figure(width=w, height=h, x_range=Range1d(XLO, XHI), y_range=Range1d(lo, hi),
               output_backend="svg", toolbar_location=None,
               min_border_left=ml, min_border_right=mr, min_border_top=mt, min_border_bottom=mb)
    p.background_fill_color = "white"
    p.border_fill_color = "white"
    p.outline_line_color = "black"
    p.outline_line_width = 2
    p.xgrid.visible = False
    p.ygrid.visible = False

    p.xaxis.ticker = FixedTicker(ticks=[1, 2])
    p.xaxis.major_label_overrides = {1: GROUPS[0], 2: GROUPS[1]}
    dec = len(tlabels[0].split(".")[1]) if "." in tlabels[0] else 0
    p.yaxis.ticker = FixedTicker(ticks=[float(t) for t in tlabels])
    p.yaxis.formatter = PrintfTickFormatter(format="%%.%df" % dec)
    p.yaxis.axis_label = gene + " Expression"
    for ax in (p.xaxis[0], p.yaxis[0]):
        ax.axis_line_color = None
        ax.major_tick_out = 3
        ax.major_tick_in = 0
        ax.minor_tick_out = 0
        ax.minor_tick_in = 0
        ax.major_tick_line_color = "black"
        ax.major_tick_line_width = 1.2
        ax.major_label_text_font = FONT
        ax.major_label_text_font_size = "12.5px"
        ax.major_label_text_color = "black"
        ax.major_label_standoff = 1
    p.yaxis.axis_label_text_font = FONT
    p.yaxis.axis_label_text_font_size = "12.5px"
    p.yaxis.axis_label_text_font_style = "normal"
    p.yaxis.axis_label_text_color = "black"
    p.yaxis.axis_label_standoff = 1

    for gi in range(2):
        xc = gi + 1
        wlo, q1, med, q3, whi = boxes[gi]
        p.segment(x0=[xc], y0=[wlo], x1=[xc], y1=[whi], line_color="black", line_width=1.8)
        p.segment(x0=[xc - 0.1, xc - 0.1], y0=[wlo, whi], x1=[xc + 0.1, xc + 0.1], y1=[wlo, whi],
                  line_color="black", line_width=1.8)
        p.quad(left=[xc - 0.35], right=[xc + 0.35], bottom=[q1], top=[q3],
               fill_color=BOX_COLORS[gi], line_color="#222222", line_width=1.8)
        p.segment(x0=[xc - 0.35], y0=[med], x1=[xc + 0.35], y1=[med], line_color="black", line_width=3.5)
        if cores is not None:
            c0, c1 = cores[gi]
            span = c1 - c0
            hw, nw = 0.225, 0.19
            px = [xc - nw, xc - hw, xc - hw, xc - nw, xc + nw, xc + hw, xc + hw, xc + nw]
            py = [c0, c0 + 0.06 * span, c1 - 0.03 * span, c1, c1, c1 - 0.03 * span, c0 + 0.06 * span, c0]
            p.patch(x=px, y=py, fill_color="black", line_color=None)
        vals = pts[gi]
        xs = [xc + jitter(i) for i in range(len(vals))]
        p.scatter(x=xs, y=vals, size=4.4, marker="circle", fill_color="black", line_color=None)

    ytop_txt = hi - 10.5 * (hi - lo) / fh
    p.add_layout(Label(x=1.5, y=ytop_txt, text="P = " + ptxt, text_align="center",
                       text_baseline="middle", text_font=FONT, text_font_size="12.5px",
                       text_color="black"))
    if letter is not None:
        ch, dx, dy, side = letter
        p.add_layout(Label(x=XLO + dx * (XHI - XLO) / fw, y=hi - dy * (hi - lo) / fh,
                           text=ch, text_align="left", text_baseline="alphabetic",
                           text_font=FONT, text_font_size="22px", text_color="black"), side)
    return p


cohorts = [
    (A_pval, A_ylim, A_ticks, A_high_box, A_low_box, A_high_pts, A_low_pts, None, None),
    (B_pval, B_ylim, B_ticks, B_high_box, B_low_box, B_high_pts, B_low_pts, None, None),
    (C_pval, C_ylim, C_ticks, C_high_box, C_low_box, C_high_pts, C_low_pts, C_high_core, C_low_core),
]

rows = []
for r in range(6):
    coh = cohorts[r // 2]
    pval, ylim, ticks, hbox, lbox, hpts, lpts, hcore, lcore = coh
    L = FRAME_LEFT[r]
    R = FRAME_RIGHT[r]
    b = [0] + [R[i] + 1 for i in range(5)] + [min(R[5] + 2, PAGE_W)]
    rt, rb = ROW_BOUNDS[r], ROW_BOUNDS[r + 1]
    ft, fb = round(FRAME_TB[r][0]), round(FRAME_TB[r][1])
    figs = []
    for c in range(6):
        k = (r % 2) * 6 + c
        geom = (b[c + 1] - b[c], rb - rt, L[c] - b[c], b[c + 1] - R[c], ft - rt, rb - fb,
                R[c] - L[c], fb - ft)
        letter = LETTERS.get(r) if c == 0 else None
        cores = (hcore[k], lcore[k]) if hcore is not None else None
        figs.append(make_panel(GENES[k], pval[k], ylim[k], ticks[k], (hbox[k], lbox[k]),
                               (hpts[k], lpts[k]), cores, geom, letter))
    rows.append(row(*figs))

layout = column(*rows)
open("out.html", "w").write(file_html(layout, INLINE))
